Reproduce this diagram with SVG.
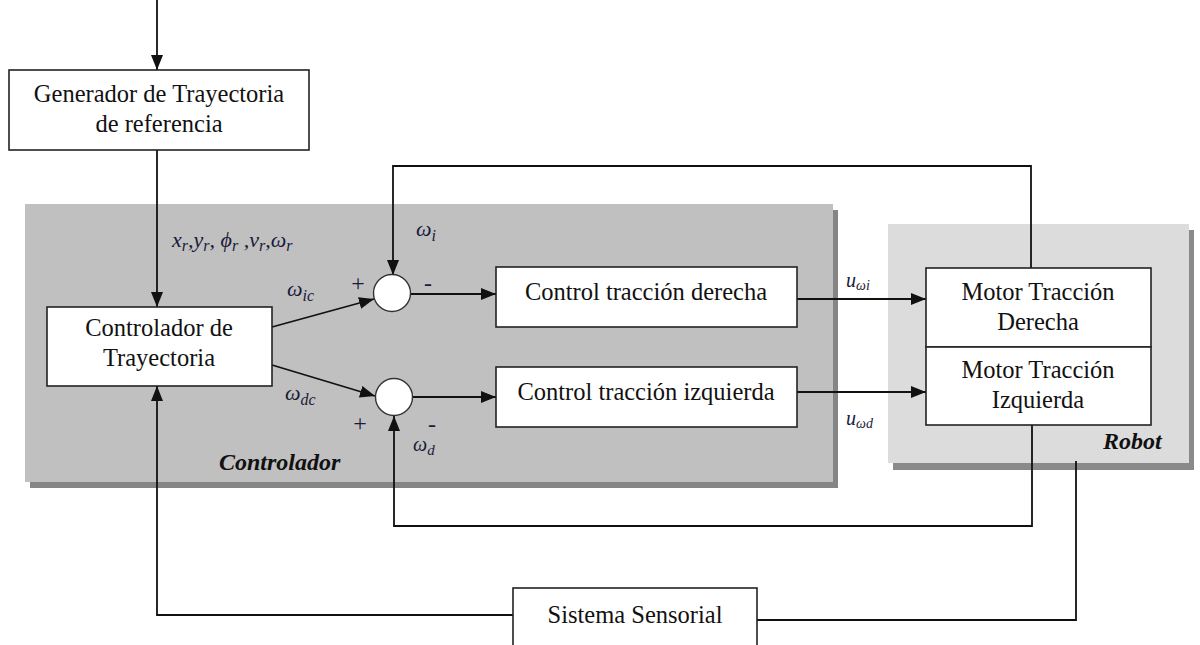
<svg xmlns="http://www.w3.org/2000/svg" width="1200" height="645" viewBox="0 0 1200 645">
  <style>
    .box { fill: #ffffff; stroke: #222; stroke-width: 1.6; }
    .wire { fill: none; stroke: #111; stroke-width: 1.8; }
    .lbl { font-family: "Liberation Serif", "Times New Roman", serif; font-size: 24.5px; fill: #111; text-anchor: middle; }
    .math { font-family: "Liberation Serif", "Times New Roman", serif; font-style: italic; font-size: 22px; fill: #1a1a3a; }
    .sub { font-size: 16px; }
    .sign { font-family: "Liberation Serif", "Times New Roman", serif; font-size: 24px; fill: #1a1a3a; text-anchor: middle; }
    .title { font-family: "Liberation Serif", "Times New Roman", serif; font-style: italic; font-weight: bold; font-size: 24px; fill: #111; }
  </style>
  <defs>
    <marker id="arrow" markerUnits="userSpaceOnUse" markerWidth="16" markerHeight="12" refX="15" refY="6" orient="auto">
      <path d="M0,0 L15,6 L0,12 Z" fill="#111"/>
    </marker>
  </defs>

  <rect width="1200" height="645" fill="#ffffff"/>

  <!-- Controller panel with drop shadow -->
  <g id="panel-controlador">
    <rect x="30" y="210" width="808" height="278" fill="#858585"/>
    <rect x="25" y="204" width="808" height="278" fill="#c0c0c0"/>
    <text class="title" x="219" y="470">Controlador</text>
  </g>

  <!-- Robot panel with drop shadow -->
  <g id="panel-robot">
    <rect x="893" y="230" width="301" height="240" fill="#8a8a8a"/>
    <rect x="888" y="224" width="301" height="239" fill="#dcdcdc"/>
    <text class="title" x="1103" y="449">Robot</text>
  </g>

  <!-- Connectors -->
  <g id="connectors">
    <line class="wire" x1="157" y1="0" x2="157" y2="70" marker-end="url(#arrow)"/>
    <line class="wire" x1="157" y1="150" x2="157" y2="307" marker-end="url(#arrow)"/>
    <line class="wire" x1="272" y1="327" x2="374" y2="299" marker-end="url(#arrow)"/>
    <line class="wire" x1="272" y1="365" x2="375" y2="396" marker-end="url(#arrow)"/>
    <line class="wire" x1="411" y1="294" x2="496" y2="294" marker-end="url(#arrow)"/>
    <line class="wire" x1="412" y1="397" x2="496" y2="397" marker-end="url(#arrow)"/>
    <line class="wire" x1="797" y1="299" x2="926" y2="299" marker-end="url(#arrow)"/>
    <line class="wire" x1="797" y1="392" x2="926" y2="392" marker-end="url(#arrow)"/>
    <!-- right wheel speed feedback -->
    <polyline class="wire" points="1031,268 1031,166 393,166 393,275" marker-end="url(#arrow)"/>
    <!-- left wheel speed feedback -->
    <polyline class="wire" points="1032,425 1032,526 394,526 394,416" marker-end="url(#arrow)"/>
    <!-- sensor loop -->
    <polyline class="wire" points="1076,461 1076,620 757,620"/>
    <polyline class="wire" points="513,615 157,615 157,386" marker-end="url(#arrow)"/>
  </g>

  <!-- Signal labels -->
  <g id="labels">
    <text class="math" x="172" y="247">x<tspan class="sub" dy="4">r</tspan><tspan dy="-4">,</tspan>y<tspan class="sub" dy="4">r</tspan><tspan dy="-4">, </tspan>ϕ<tspan class="sub" dy="4">r</tspan><tspan dy="-4"> ,</tspan>v<tspan class="sub" dy="4">r</tspan><tspan dy="-4">,</tspan>ω<tspan class="sub" dy="4">r</tspan></text>
    <text class="math" x="416" y="236">ω<tspan class="sub" dy="5">i</tspan></text>
    <text class="math" x="287" y="296">ω<tspan class="sub" dy="5">ic</tspan></text>
    <text class="math" x="285" y="400">ω<tspan class="sub" dy="5">dc</tspan></text>
    <text class="math" x="413" y="451" style="font-size:20px">ω<tspan class="sub" dy="4" style="font-size:15px">d</tspan></text>
    <text class="math" x="846" y="287" style="font-size:20px">u<tspan class="sub" dy="3" style="font-size:14px">ωi</tspan></text>
    <text class="math" x="846" y="425" style="font-size:20px">u<tspan class="sub" dy="3" style="font-size:14px">ωd</tspan></text>
    <text class="sign" x="358" y="291">+</text>
    <text class="sign" x="360" y="431">+</text>
    <text class="sign" x="428" y="291">-</text>
    <text class="sign" x="432" y="432">-</text>
  </g>

  <g id="generador">
    <rect class="box" x="9" y="70" width="300" height="80"/>
    <text class="lbl" x="159" y="102">Generador de Trayectoria</text>
    <text class="lbl" x="159" y="132">de referencia</text>
  </g>

  <g id="controlador-trayectoria">
    <rect class="box" x="47" y="307" width="225" height="79"/>
    <text class="lbl" x="159" y="336">Controlador de</text>
    <text class="lbl" x="159" y="366">Trayectoria</text>
  </g>

  <g id="suma-derecha">
    <circle cx="392" cy="293" r="18.5" fill="#fff" stroke="#333" stroke-width="1.4"/>
  </g>
  <g id="suma-izquierda">
    <circle cx="394" cy="397" r="18.5" fill="#fff" stroke="#333" stroke-width="1.4"/>
  </g>

  <g id="control-derecha">
    <rect class="box" x="496" y="267" width="301" height="60"/>
    <text class="lbl" x="646" y="300">Control tracción derecha</text>
  </g>

  <g id="control-izquierda">
    <rect class="box" x="496" y="367" width="301" height="60"/>
    <text class="lbl" x="646" y="400">Control tracción izquierda</text>
  </g>

  <g id="motor-derecha">
    <rect class="box" x="926" y="268" width="225" height="79"/>
    <text class="lbl" x="1038" y="300">Motor Tracción</text>
    <text class="lbl" x="1038" y="330">Derecha</text>
  </g>

  <g id="motor-izquierda">
    <rect class="box" x="926" y="347" width="225" height="78"/>
    <text class="lbl" x="1038" y="378">Motor Tracción</text>
    <text class="lbl" x="1038" y="408">Izquierda</text>
  </g>

  <g id="sistema-sensorial">
    <rect class="box" x="513" y="588" width="244" height="70"/>
    <text class="lbl" x="635" y="623">Sistema Sensorial</text>
  </g>
</svg>
